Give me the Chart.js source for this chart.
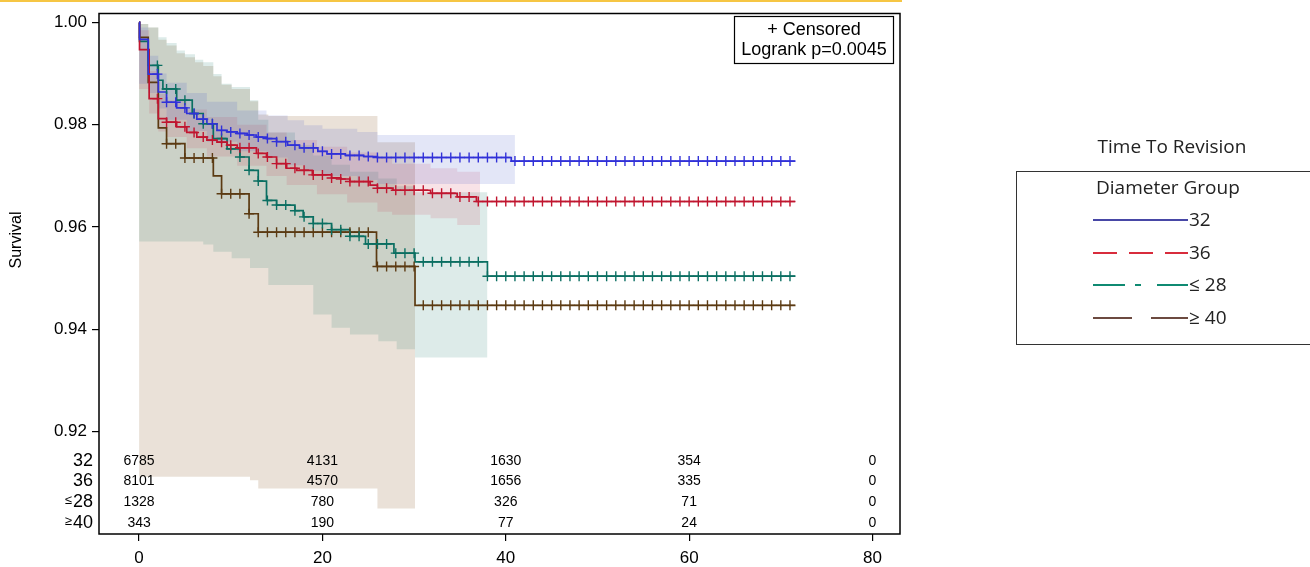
<!DOCTYPE html>
<html>
<head>
<meta charset="utf-8">
<script src="https://cdn.jsdelivr.net/npm/chart.js@4.4.0/dist/chart.umd.min.js"></script>
<style>
html, body { margin: 0; padding: 0; background: #fff; }
#wrap { position: relative; width: 1310px; height: 567px; }
</style>
</head>
<body>
<div id="wrap"><canvas id="km" width="1310" height="567"></canvas></div>
<script>
// Kaplan-Meier steps: time of drop (months) and survival after the drop
var t32 = [0, 0.05, 1.0, 2.1, 3.0, 4.1, 5.2, 6.3, 7.4, 8.5, 9.6, 10.7, 11.8, 12.8, 13.9, 15.0, 16.2, 17.5, 19.5, 20.5, 22.5, 24.5, 26.0, 40.6, 71.6];
var s32 = [1, 0.9967, 0.9899, 0.9864, 0.9844, 0.9833, 0.9822, 0.9811, 0.9802, 0.9789, 0.9786, 0.9783, 0.9780, 0.9776, 0.9773, 0.9767, 0.9760, 0.9755, 0.9748, 0.9743, 0.9740, 0.9738, 0.9736, 0.9729, 0.9729];

var t36 = [0, 0.05, 1.1, 2.1, 3.0, 4.1, 5.2, 6.3, 7.4, 8.5, 9.6, 10.7, 12.8, 13.9, 15.0, 16.1, 17.2, 18.9, 21.0, 22.0, 23.0, 25.2, 26.0, 27.7, 31.8, 34.7, 36.8, 71.6];
var s36 = [1, 0.9947, 0.9851, 0.9812, 0.9805, 0.9796, 0.9785, 0.9776, 0.9770, 0.9766, 0.9760, 0.9755, 0.9744, 0.9737, 0.9724, 0.9715, 0.9711, 0.9702, 0.9696, 0.9694, 0.9689, 0.9682, 0.9676, 0.9672, 0.9666, 0.9659, 0.9650, 0.9650];

var t28 = [0, 0.05, 1.0, 2.1, 2.6, 4.1, 5.8, 7.0, 8.1, 9.6, 11.0, 12.0, 13.0, 13.9, 15.0, 17.0, 17.9, 19.0, 21.0, 23.0, 24.7, 27.8, 30.1, 38.0, 71.6];
var s28 = [1, 0.9963, 0.9916, 0.9887, 0.9870, 0.9848, 0.9822, 0.9802, 0.9773, 0.9753, 0.9737, 0.9711, 0.9690, 0.9652, 0.9643, 0.9632, 0.9620, 0.9607, 0.9595, 0.9582, 0.9567, 0.9549, 0.9532, 0.9504, 0.9504];

var t40 = [0, 0.05, 1.0, 2.1, 3.0, 5.0, 8.1, 9.0, 12.0, 13.0, 25.9, 30.1, 71.6];
var s40 = [1, 0.9971, 0.9883, 0.9794, 0.9763, 0.9735, 0.9700, 0.9665, 0.9626, 0.9590, 0.9523, 0.9447, 0.9447];

// confidence bands: step times, lower and upper limits
var bt32 = [0, 1.0, 2.1, 3.0, 5.2, 7.4, 10.7, 13.9, 16.2, 18.0, 20.0, 23.8, 26.0, 41.0];
var bl32 = [0.9880, 0.9862, 0.9832, 0.9810, 0.9788, 0.9767, 0.9748, 0.9736, 0.9721, 0.9710, 0.9700, 0.9692, 0.9684, 0.9684];
var bu32 = [0.9990, 0.9935, 0.9900, 0.9882, 0.9862, 0.9845, 0.9828, 0.9818, 0.9809, 0.9799, 0.9792, 0.9786, 0.9780, 0.9780];

var bt36 = [0, 1.1, 2.1, 3.0, 5.2, 7.4, 10.7, 13.9, 16.1, 19.4, 22.7, 26.0, 27.6, 31.8, 34.7, 37.2];
var bl36 = [0.9870, 0.9822, 0.9787, 0.9776, 0.9754, 0.9738, 0.9720, 0.9700, 0.9682, 0.9664, 0.9648, 0.9630, 0.9624, 0.9617, 0.9604, 0.9604];
var bu36 = [0.9985, 0.9905, 0.9860, 0.9848, 0.9830, 0.9815, 0.9800, 0.9785, 0.9770, 0.9757, 0.9746, 0.9735, 0.9724, 0.9715, 0.9708, 0.9708];

var bt28 = [0, 1, 2.1, 3, 4.1, 5, 6.1, 7, 8.1, 9, 10.1, 12.1, 13, 14.1, 17, 19, 21, 23, 26.1, 28.1, 30.1, 38.0];
var bl28 = [0.9572, 0.9572, 0.9572, 0.9572, 0.9572, 0.9572, 0.9572, 0.9566, 0.9552, 0.9552, 0.9539, 0.9520, 0.9520, 0.9487, 0.9487, 0.9429, 0.9403, 0.9390, 0.9377, 0.9361, 0.9345, 0.9345];
var bu28 = [0.9997, 0.9990, 0.9971, 0.9960, 0.9945, 0.9938, 0.9927, 0.9922, 0.9899, 0.9880, 0.9874, 0.9848, 0.9810, 0.9785, 0.9760, 0.9740, 0.9722, 0.9708, 0.9695, 0.9680, 0.9668, 0.9668];

var bt40 = [0, 1, 2.1, 3, 4.1, 5, 6.1, 7, 8.1, 9, 10.1, 12.1, 13, 14.1, 26.0, 30.1];
var bl40 = [0.9112, 0.9112, 0.9112, 0.9112, 0.9112, 0.9112, 0.9112, 0.9112, 0.9112, 0.9112, 0.9112, 0.9105, 0.9089, 0.9089, 0.9050, 0.9050];
var bu40 = [0.9997, 0.9990, 0.9966, 0.9955, 0.9940, 0.9932, 0.9922, 0.9915, 0.9895, 0.9878, 0.9870, 0.9846, 0.9820, 0.9817, 0.9766, 0.9766];

// censored observations (months)
var censorMonths = [2, 3, 4, 5, 6, 7, 8, 9, 10, 11, 12, 13, 14, 15, 16, 17, 18, 19, 20, 21, 22, 23, 24, 25, 26, 27, 28, 29, 30, 31, 32, 33, 34, 35, 36, 37, 38, 39, 40, 41, 42, 43, 44, 45, 46, 47, 48, 49, 50, 51, 52, 53, 54, 55, 56, 57, 58, 59, 60, 61, 62, 63, 64, 65, 66, 67, 68, 69, 70, 71];

// numbers at risk
var riskTimes = [0, 20, 40, 60, 80];
var risk32 = [6785, 4131, 1630, 354, 0];
var risk36 = [8101, 4570, 1656, 335, 0];
var risk28 = [1328, 780, 326, 71, 0];
var risk40 = [343, 190, 77, 24, 0];
var riskLabels = ['32', '36', '28', '40'];
var riskSigns = ['', '', '\u2264', '\u2265'];

var xTicks = [0, 20, 40, 60, 80];
var yTicks = [0.92, 0.94, 0.96, 0.98, 1.00];

var groups = [
  { name: '32', t: t32, s: s32, bt: bt32, bl: bl32, bu: bu32, first: 2, line: '#3131d8', band: 'rgba(70,90,200,0.15)', leg: '#4747a6', dash: [] },
  { name: '36', t: t36, s: s36, bt: bt36, bl: bl36, bu: bu36, first: 2, line: '#c0152f', band: 'rgba(200,40,70,0.13)', leg: '#d82c3c', dash: [24, 12] },
  { name: '\u2264 28', t: t28, s: s28, bt: bt28, bl: bl28, bu: bu28, first: 2, line: '#0b6f62', band: 'rgba(14,114,102,0.14)', leg: '#0f8a72', dash: [32, 10, 6, 16] },
  { name: '\u2265 40', t: t40, s: s40, bt: bt40, bl: bl40, bu: bu40, first: 3, line: '#5b3a12', band: 'rgba(140,90,40,0.18)', leg: '#6c4a40', dash: [39, 19] }
];
var riskRows = [risk32, risk36, risk28, risk40];

function pts(ts, ys) {
  return ts.map(function (t, i) { return { x: t, y: ys[i] }; });
}
function stepAt(ts, ys, t) {
  var v = ys[0];
  for (var i = 0; i < ts.length; i++) { if (ts[i] <= t) v = ys[i]; }
  return v;
}

var datasets = [];
groups.forEach(function (g, k) {
  datasets.push({ type: 'line', data: pts(g.bt, g.bu), stepped: true, borderWidth: 0, pointRadius: 0,
    fill: '+1', backgroundColor: g.band, order: 20 + k });
  datasets.push({ type: 'line', data: pts(g.bt, g.bl), stepped: true, borderWidth: 0, pointRadius: 0,
    fill: false, order: 20 + k });
});
groups.forEach(function (g) {
  datasets.push({ type: 'line', data: pts(g.t, g.s), stepped: true, borderColor: g.line, borderWidth: 1.7,
    pointRadius: 0, fill: false, order: 5 });
});
groups.forEach(function (g) {
  var last = g.t[g.t.length - 1];
  var marks = censorMonths.filter(function (m) { return m >= g.first && m <= last; })
    .map(function (m) { return { x: m, y: stepAt(g.t, g.s, m) }; });
  datasets.push({ type: 'scatter', data: marks, showLine: false, pointStyle: 'cross', pointRadius: 5,
    borderColor: g.line, pointBorderColor: g.line, borderWidth: 1.4, pointBorderWidth: 1.4, order: 1 });
});

var decor = {
  id: 'decor',
  beforeDraw: function (chart) {
    var ctx = chart.ctx;
    ctx.save();
    ctx.fillStyle = '#fff';
    ctx.fillRect(0, 0, chart.width, chart.height);
    ctx.fillStyle = '#f6c644';
    ctx.fillRect(0, 0, 902, 2);
    ctx.restore();
  },
  afterDraw: function (chart) {
    var ctx = chart.ctx, a = chart.chartArea, xs = chart.scales.x;
    ctx.save();
    // frame
    ctx.strokeStyle = '#000';
    ctx.lineWidth = 1.5;
    ctx.strokeRect(a.left, a.top, a.right - a.left, a.bottom - a.top);

    // y axis title
    ctx.fillStyle = '#000';
    ctx.save();
    ctx.translate(17, 240);
    ctx.rotate(-Math.PI / 2);
    ctx.font = '16px "Liberation Sans", Arial, sans-serif';
    ctx.textAlign = 'center';
    ctx.textBaseline = 'middle';
    ctx.fillText('Survival', 0, 0);
    ctx.restore();

    // inset
    ctx.lineWidth = 1.2;
    ctx.strokeRect(734.5, 16.5, 159, 47);
    ctx.font = '18px "Liberation Sans", Arial, sans-serif';
    ctx.textAlign = 'center';
    ctx.textBaseline = 'middle';
    ctx.fillText('+ Censored', 814, 30);
    ctx.fillText('Logrank p=0.0045', 814, 50);

    // numbers at risk
    var rowY = [461, 481, 502, 523];
    riskRows.forEach(function (row, r) {
      ctx.font = '18px "Liberation Sans", Arial, sans-serif';
      ctx.textAlign = 'right';
      ctx.fillText(riskLabels[r], 93, rowY[r]);
      if (riskSigns[r]) {
        var w = ctx.measureText(riskLabels[r]).width;
        ctx.font = '13px "Liberation Sans", Arial, sans-serif';
        ctx.fillText(riskSigns[r], 93 - w - 1, rowY[r] - 2);
      }
      ctx.font = '14px "Liberation Sans", Arial, sans-serif';
      ctx.textAlign = 'center';
      row.forEach(function (n, i) {
        ctx.fillText(String(n), xs.getPixelForValue(riskTimes[i]), rowY[r]);
      });
    });

    // legend
    ctx.fillStyle = '#222';
    ctx.font = '19px "Open Sans", "Noto Sans", sans-serif';
    ctx.textAlign = 'center';
    ctx.fillText('Time To Revision', 1172, 148);
    ctx.strokeStyle = '#333';
    ctx.lineWidth = 1;
    ctx.strokeRect(1016.5, 171.5, 310, 173);
    ctx.textAlign = 'left';
    ctx.fillText('Diameter Group', 1096, 189);
    var legY = [220, 253, 285, 318];
    groups.forEach(function (g, k) {
      ctx.strokeStyle = g.leg;
      ctx.lineWidth = 2;
      ctx.setLineDash(g.dash);
      ctx.beginPath();
      ctx.moveTo(1093, legY[k]);
      ctx.lineTo(1188, legY[k]);
      ctx.stroke();
      ctx.setLineDash([]);
      ctx.fillStyle = '#222';
      ctx.fillText(g.name, 1189, legY[k] + 1);
    });
    ctx.restore();
  }
};

new Chart(document.getElementById('km'), {
  data: { datasets: datasets },
  plugins: [decor],
  options: {
    responsive: false,
    animation: false,
    devicePixelRatio: 1,
    events: [],
    layout: { padding: { left: 0, right: 410, top: 11, bottom: 0 } },
    plugins: { legend: { display: false }, tooltip: { enabled: false } },
    scales: {
      x: {
        type: 'linear', min: -4.37, max: 83.0,
        afterBuildTicks: function (s) { s.ticks = xTicks.map(function (v) { return { value: v }; }); },
        afterFit: function (s) { s.height = 33; },
        grid: { drawOnChartArea: false, drawTicks: true, tickLength: 7, color: '#000', lineWidth: 1.2 },
        border: { display: false },
        ticks: { color: '#000', font: { family: '"Liberation Sans", Arial', size: 17, lineHeight: 1 }, padding: 9, maxRotation: 0, autoSkip: false }
      },
      y: {
        type: 'linear', min: 0.9, max: 1.00175,
        afterBuildTicks: function (s) { s.ticks = yTicks.map(function (v) { return { value: v }; }); },
        afterFit: function (s) { s.width = 99; },
        grid: { drawOnChartArea: false, drawTicks: true, tickLength: 7, color: '#000', lineWidth: 1.2 },
        border: { display: false },
        ticks: { color: '#000', font: { family: '"Liberation Sans", Arial', size: 17, lineHeight: 1 }, padding: 5, autoSkip: false,
          callback: function (v) { return Number(v).toFixed(2); } }
      }
    }
  }
});
</script>
</body>
</html>
